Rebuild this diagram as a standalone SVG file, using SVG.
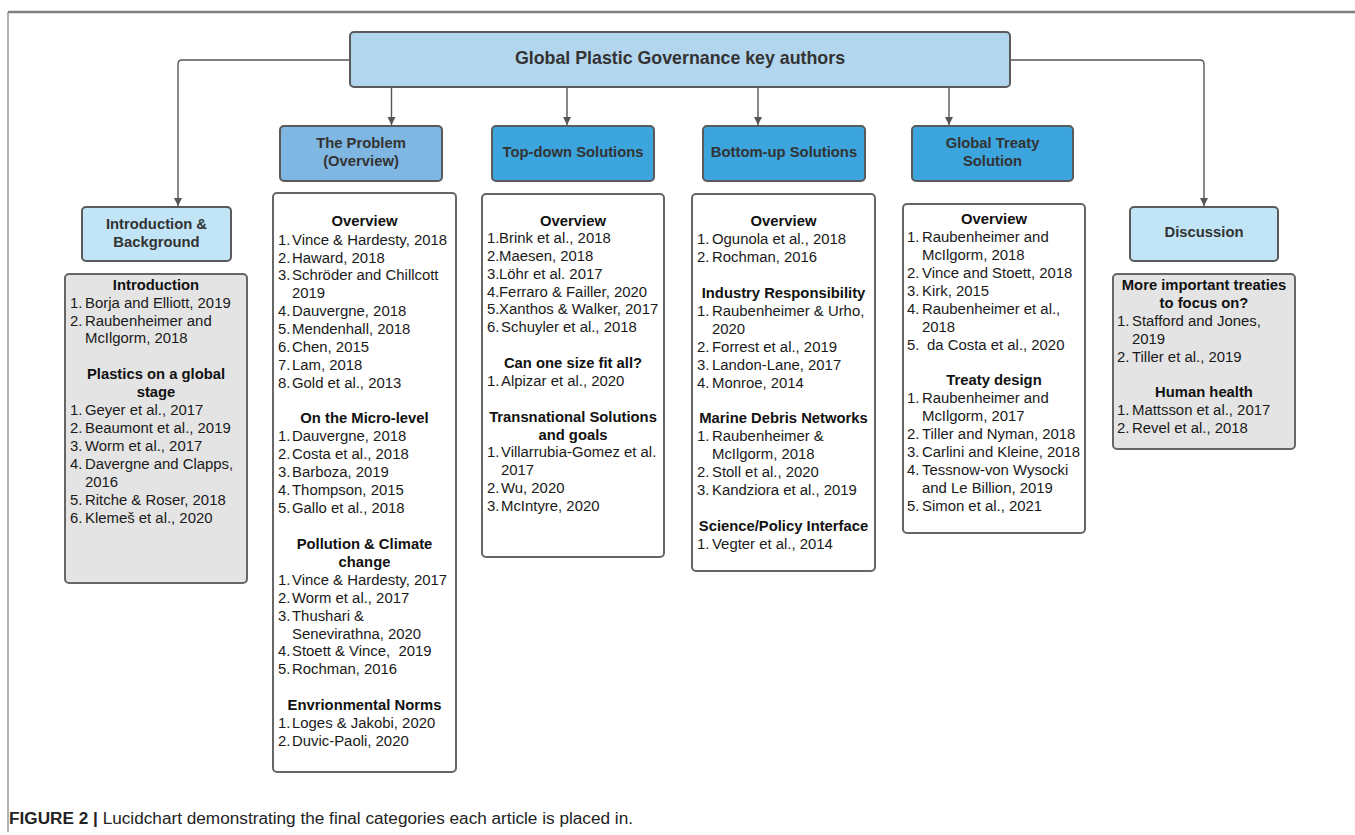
<svg xmlns="http://www.w3.org/2000/svg" width="1355" height="835" viewBox="0 0 1355 835">
<style>
text{font-family:"Liberation Sans",Arial,Helvetica,sans-serif;}
.hd{font-size:17.8px;font-weight:bold;fill:#333;text-anchor:middle;}
.nt{font-size:14.8px;font-weight:bold;fill:#333;text-anchor:middle;}
.h{font-size:14.8px;font-weight:bold;fill:#111;text-anchor:middle;}
.t{font-size:14.9px;fill:#1a1a1a;}
.box{stroke:#5a5a5a;stroke-width:2;}
.lst{fill:#fff;stroke:#666;stroke-width:2;}
.gry{fill:#e4e4e4;stroke:#666;stroke-width:2;}
.con{fill:none;stroke:#555;stroke-width:1.4;}
.frame{stroke:#7f7f7f;fill:none;}
.cap{font-size:16px;fill:#222;}
</style>
<defs>
<marker id="arr" viewBox="0 0 10 10" refX="10" refY="5" markerWidth="8" markerHeight="10" markerUnits="userSpaceOnUse" orient="auto">
<path d="M0,0 L10,5 L0,10 z" fill="#555"/>
</marker>
</defs>

<line class="frame" x1="8" y1="12" x2="1355" y2="12" stroke-width="2.5"/>
<line class="frame" x1="8" y1="12" x2="8" y2="832" stroke-width="1.2"/>

<g id="connectors">
<path class="con" d="M350,60 H182 Q178,60 178,64 V206" marker-end="url(#arr)"/>
<path class="con" d="M1010,60 H1200 Q1204,60 1204,64 V206" marker-end="url(#arr)"/>
<path class="con" d="M391.5,88 V125" marker-end="url(#arr)"/>
<path class="con" d="M567,88 V125" marker-end="url(#arr)"/>
<path class="con" d="M758,88 V125" marker-end="url(#arr)"/>
<path class="con" d="M949,88 V125" marker-end="url(#arr)"/>
</g>

<g id="root">
<rect class="box" x="350" y="32" width="660" height="55" rx="4" fill="#b3d6ef"/>
<text class="hd" x="680" y="64">Global Plastic Governance key authors</text>
</g>

<g id="intro">
<rect class="box" x="82" y="207" width="149" height="54" rx="4" fill="#c1e5f7"/>
<text class="nt" x="156.5" y="229">Introduction &amp;</text>
<text class="nt" x="156.5" y="247">Background</text>
</g>
<g id="intro-list">
<rect class="gry" x="65" y="274" width="182" height="309" rx="4"/>
<text class="h" x="156" y="290">Introduction</text>
<text class="t"><tspan x="70" y="308">1.</tspan><tspan x="85">Borja and Elliott, 2019</tspan></text>
<text class="t"><tspan x="70" y="326">2.</tspan><tspan x="85">Raubenheimer and</tspan></text>
<text class="t" x="85" y="343">McIlgorm, 2018</text>
<text class="h" x="156" y="379">Plastics on a global</text>
<text class="h" x="156" y="397">stage</text>
<text class="t"><tspan x="70" y="415">1.</tspan><tspan x="85">Geyer et al., 2017</tspan></text>
<text class="t"><tspan x="70" y="433">2.</tspan><tspan x="85">Beaumont et al., 2019</tspan></text>
<text class="t"><tspan x="70" y="451">3.</tspan><tspan x="85">Worm et al., 2017</tspan></text>
<text class="t"><tspan x="70" y="469">4.</tspan><tspan x="85">Davergne and Clapps,</tspan></text>
<text class="t" x="85" y="487">2016</text>
<text class="t"><tspan x="70" y="505">5.</tspan><tspan x="85">Ritche &amp; Roser, 2018</tspan></text>
<text class="t"><tspan x="70" y="523">6.</tspan><tspan x="85">Klemeš et al., 2020</tspan></text>
</g>

<g id="problem">
<rect class="box" x="280" y="126" width="162" height="55" rx="4" fill="#7fb7e2"/>
<text class="nt" x="361" y="148">The Problem</text>
<text class="nt" x="361" y="166">(Overview)</text>
</g>
<g id="problem-list">
<rect class="lst" x="273" y="193" width="183" height="579" rx="4"/>
<text class="h" x="364.5" y="226">Overview</text>
<text class="t"><tspan x="278" y="245">1.</tspan><tspan x="292">Vince &amp; Hardesty, 2018</tspan></text>
<text class="t"><tspan x="278" y="263">2.</tspan><tspan x="292">Haward, 2018</tspan></text>
<text class="t"><tspan x="278" y="280">3.</tspan><tspan x="292">Schröder and Chillcott</tspan></text>
<text class="t" x="292" y="298">2019</text>
<text class="t"><tspan x="278" y="316">4.</tspan><tspan x="292">Dauvergne, 2018</tspan></text>
<text class="t"><tspan x="278" y="334">5.</tspan><tspan x="292">Mendenhall, 2018</tspan></text>
<text class="t"><tspan x="278" y="352">6.</tspan><tspan x="292">Chen, 2015</tspan></text>
<text class="t"><tspan x="278" y="370">7.</tspan><tspan x="292">Lam, 2018</tspan></text>
<text class="t"><tspan x="278" y="388">8.</tspan><tspan x="292">Gold et al., 2013</tspan></text>
<text class="h" x="364.5" y="423">On the Micro-level</text>
<text class="t"><tspan x="278" y="441">1.</tspan><tspan x="292">Dauvergne, 2018</tspan></text>
<text class="t"><tspan x="278" y="459">2.</tspan><tspan x="292">Costa et al., 2018</tspan></text>
<text class="t"><tspan x="278" y="477">3.</tspan><tspan x="292">Barboza, 2019</tspan></text>
<text class="t"><tspan x="278" y="495">4.</tspan><tspan x="292">Thompson, 2015</tspan></text>
<text class="t"><tspan x="278" y="513">5.</tspan><tspan x="292">Gallo et al., 2018</tspan></text>
<text class="h" x="364.5" y="549">Pollution &amp; Climate</text>
<text class="h" x="364.5" y="567">change</text>
<text class="t"><tspan x="278" y="585">1.</tspan><tspan x="292">Vince &amp; Hardesty, 2017</tspan></text>
<text class="t"><tspan x="278" y="603">2.</tspan><tspan x="292">Worm et al., 2017</tspan></text>
<text class="t"><tspan x="278" y="621">3.</tspan><tspan x="292">Thushari &amp;</tspan></text>
<text class="t" x="292" y="639">Senevirathna, 2020</text>
<text class="t" xml:space="preserve"><tspan x="278" y="656">4.</tspan><tspan x="292">Stoett &amp; Vince,  2019</tspan></text>
<text class="t"><tspan x="278" y="674">5.</tspan><tspan x="292">Rochman, 2016</tspan></text>
<text class="h" x="364.5" y="710">Envrionmental Norms</text>
<text class="t"><tspan x="278" y="728">1.</tspan><tspan x="292">Loges &amp; Jakobi, 2020</tspan></text>
<text class="t"><tspan x="278" y="746">2.</tspan><tspan x="292">Duvic-Paoli, 2020</tspan></text>
</g>

<g id="topdown">
<rect class="box" x="492" y="126" width="162" height="55" rx="4" fill="#3da5dd"/>
<text class="nt" x="573" y="157">Top-down Solutions</text>
</g>
<g id="topdown-list">
<rect class="lst" x="482" y="194" width="182" height="363" rx="4"/>
<text class="h" x="573" y="226">Overview</text>
<text class="t"><tspan x="487" y="243">1.</tspan><tspan x="499">Brink et al., 2018</tspan></text>
<text class="t"><tspan x="487" y="261">2.</tspan><tspan x="499">Maesen, 2018</tspan></text>
<text class="t"><tspan x="487" y="279">3.</tspan><tspan x="499">Löhr et al. 2017</tspan></text>
<text class="t"><tspan x="487" y="297">4.</tspan><tspan x="499">Ferraro &amp; Failler, 2020</tspan></text>
<text class="t"><tspan x="487" y="314">5.</tspan><tspan x="499">Xanthos &amp; Walker, 2017</tspan></text>
<text class="t"><tspan x="487" y="332">6.</tspan><tspan x="501">Schuyler et al., 2018</tspan></text>
<text class="h" x="573" y="368">Can one size fit all?</text>
<text class="t"><tspan x="487" y="386">1.</tspan><tspan x="501">Alpizar et al., 2020</tspan></text>
<text class="h" x="573" y="422">Transnational Solutions</text>
<text class="h" x="573" y="440">and goals</text>
<text class="t"><tspan x="487" y="457">1.</tspan><tspan x="501">Villarrubia-Gomez et al.</tspan></text>
<text class="t" x="501" y="475">2017</text>
<text class="t"><tspan x="487" y="493">2.</tspan><tspan x="501">Wu, 2020</tspan></text>
<text class="t"><tspan x="487" y="511">3.</tspan><tspan x="501">McIntyre, 2020</tspan></text>
</g>

<g id="bottomup">
<rect class="box" x="703" y="126" width="162" height="55" rx="4" fill="#3da5dd"/>
<text class="nt" x="784" y="157">Bottom-up Solutions</text>
</g>
<g id="bottomup-list">
<rect class="lst" x="692" y="194" width="183" height="377" rx="4"/>
<text class="h" x="783.5" y="226">Overview</text>
<text class="t"><tspan x="697" y="244">1.</tspan><tspan x="712">Ogunola et al., 2018</tspan></text>
<text class="t"><tspan x="697" y="262">2.</tspan><tspan x="712">Rochman, 2016</tspan></text>
<text class="h" x="783.5" y="298">Industry Responsibility</text>
<text class="t"><tspan x="697" y="316">1.</tspan><tspan x="712">Raubenheimer &amp; Urho,</tspan></text>
<text class="t" x="712" y="334">2020</text>
<text class="t"><tspan x="697" y="352">2.</tspan><tspan x="712">Forrest et al., 2019</tspan></text>
<text class="t"><tspan x="697" y="370">3.</tspan><tspan x="712">Landon-Lane, 2017</tspan></text>
<text class="t"><tspan x="697" y="388">4.</tspan><tspan x="712">Monroe, 2014</tspan></text>
<text class="h" x="783.5" y="423">Marine Debris Networks</text>
<text class="t"><tspan x="697" y="441">1.</tspan><tspan x="712">Raubenheimer &amp;</tspan></text>
<text class="t" x="712" y="459">McIlgorm, 2018</text>
<text class="t"><tspan x="697" y="477">2.</tspan><tspan x="712">Stoll et al., 2020</tspan></text>
<text class="t"><tspan x="697" y="495">3.</tspan><tspan x="712">Kandziora et al., 2019</tspan></text>
<text class="h" x="783.5" y="531">Science/Policy Interface</text>
<text class="t"><tspan x="697" y="549">1.</tspan><tspan x="712">Vegter et al., 2014</tspan></text>
</g>

<g id="treaty">
<rect class="box" x="912" y="126" width="161" height="55" rx="4" fill="#3da5dd"/>
<text class="nt" x="992.5" y="148">Global Treaty</text>
<text class="nt" x="992.5" y="166">Solution</text>
</g>
<g id="treaty-list">
<rect class="lst" x="903" y="204" width="182" height="329" rx="4"/>
<text class="h" x="994" y="224">Overview</text>
<text class="t"><tspan x="907" y="242">1.</tspan><tspan x="922">Raubenheimer and</tspan></text>
<text class="t" x="922" y="260">McIlgorm, 2018</text>
<text class="t"><tspan x="907" y="278">2.</tspan><tspan x="922">Vince and Stoett, 2018</tspan></text>
<text class="t"><tspan x="907" y="296">3.</tspan><tspan x="922">Kirk, 2015</tspan></text>
<text class="t"><tspan x="907" y="314">4.</tspan><tspan x="922">Raubenheimer et al.,</tspan></text>
<text class="t" x="922" y="332">2018</text>
<text class="t"><tspan x="907" y="350">5.</tspan><tspan x="927">da Costa et al., 2020</tspan></text>
<text class="h" x="994" y="385">Treaty design</text>
<text class="t"><tspan x="907" y="403">1.</tspan><tspan x="922">Raubenheimer and</tspan></text>
<text class="t" x="922" y="421">McIlgorm, 2017</text>
<text class="t"><tspan x="907" y="439">2.</tspan><tspan x="922">Tiller and Nyman, 2018</tspan></text>
<text class="t"><tspan x="907" y="457">3.</tspan><tspan x="922">Carlini and Kleine, 2018</tspan></text>
<text class="t"><tspan x="907" y="475">4.</tspan><tspan x="922">Tessnow-von Wysocki</tspan></text>
<text class="t" x="922" y="493">and Le Billion, 2019</text>
<text class="t"><tspan x="907" y="511">5.</tspan><tspan x="922">Simon et al., 2021</tspan></text>
</g>

<g id="discussion">
<rect class="box" x="1130" y="207" width="148" height="54" rx="4" fill="#c1e5f7"/>
<text class="nt" x="1204" y="237">Discussion</text>
</g>
<g id="discussion-list">
<rect class="gry" x="1113" y="274" width="182" height="175" rx="4"/>
<text class="h" x="1204" y="290">More important treaties</text>
<text class="h" x="1204" y="308">to focus on?</text>
<text class="t"><tspan x="1117" y="326">1.</tspan><tspan x="1132">Stafford and Jones,</tspan></text>
<text class="t" x="1132" y="344">2019</text>
<text class="t"><tspan x="1117" y="362">2.</tspan><tspan x="1132">Tiller et al., 2019</tspan></text>
<text class="h" x="1204" y="397">Human health</text>
<text class="t"><tspan x="1117" y="415">1.</tspan><tspan x="1132">Mattsson et al., 2017</tspan></text>
<text class="t"><tspan x="1117" y="433">2.</tspan><tspan x="1132">Revel et al., 2018</tspan></text>
</g>

<text class="cap" x="9" y="824" textLength="624" lengthAdjust="spacingAndGlyphs"><tspan font-weight="bold">FIGURE 2 |</tspan> Lucidchart demonstrating the final categories each article is placed in.</text>
</svg>
